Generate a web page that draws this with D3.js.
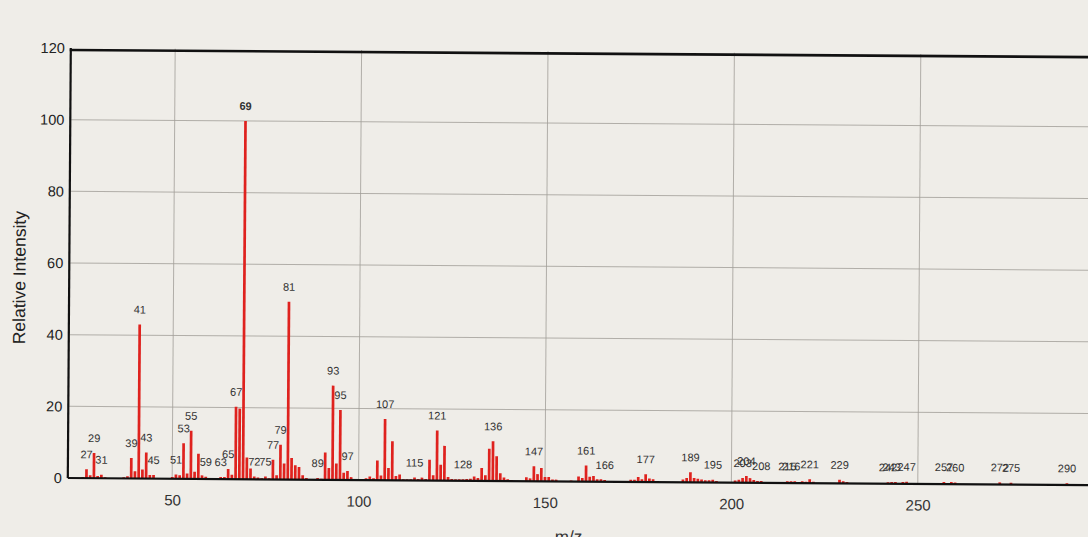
<!DOCTYPE html>
<html>
<head>
<meta charset="utf-8">
<script src="https://cdn.jsdelivr.net/npm/d3@7"></script>
<style>
  html, body { margin: 0; padding: 0; background: #efede8; }
  svg { display: block; }
</style>
</head>
<body>
<svg id="chart" width="1088" height="537"></svg>
<script>
// Mass spectrum: m/z values and relative intensities (%)
const mzValues = [
  26, 27, 28, 29, 30, 31, 32, 37, 38, 39, 40, 41, 42, 43, 44, 45,
  50, 51, 52, 53, 54, 55, 56, 57, 58, 59, 62, 63, 64, 65, 66, 67, 68, 69,
  70, 71, 72, 73, 74, 75, 76, 77, 78, 79, 80, 81, 82, 83, 84, 85, 86, 87,
  89, 90, 91, 92, 93, 94, 95, 96, 97, 98, 99,
  101, 102, 103, 104, 105, 106, 107, 108, 109, 110, 111, 112, 113, 114,
  115, 116, 117, 118, 119, 120, 121, 122, 123, 124, 125, 126, 127, 128,
  129, 130, 131, 132, 133, 134, 135, 136, 137, 138, 139, 140, 141,
  145, 146, 147, 148, 149, 150, 151, 152, 153, 157, 159, 160, 161, 162,
  163, 164, 165, 166, 173, 174, 175, 176, 177, 178, 179, 180,
  187, 188, 189, 190, 191, 192, 193, 194, 195, 196,
  201, 202, 203, 204, 205, 206, 207, 208, 215, 216, 217, 219, 220, 221, 222,
  229, 230, 231, 242, 243, 244, 246, 247, 257, 259, 260, 272, 275, 290
];
const intensities = [
  0.3, 2.5, 0.8, 7.0, 0.6, 1.0, 0.3, 0.3, 0.6, 5.7, 2.0, 43.0, 2.5, 7.3, 1.0, 1.0,
  0.5, 1.2, 1.0, 9.9, 1.5, 13.4, 2.0, 7.0, 1.0, 0.6, 0.3, 0.6, 0.6, 2.8, 1.2, 20.2, 19.7, 100,
  6.1, 3.0, 0.8, 0.5, 0.3, 0.8, 0.3, 5.5, 1.2, 9.7, 4.5, 49.6, 6.0, 4.0, 3.5, 1.2, 0.5, 0.2,
  0.5, 0.3, 7.6, 3.3, 26.3, 4.6, 19.5, 2.0, 2.5, 0.8, 0.3,
  0.3, 0.5, 1.0, 0.5, 5.5, 1.3, 17.1, 3.4, 10.9, 1.2, 1.6, 0.3, 0.3, 0.3,
  0.8, 0.4, 0.8, 0.4, 5.8, 1.5, 14.0, 4.4, 9.7, 1.0, 0.5, 0.4, 0.4, 0.4,
  0.5, 0.6, 1.2, 0.8, 3.6, 1.6, 9.0, 11.1, 6.9, 2.2, 1.0, 0.5, 0.3,
  1.1, 0.8, 4.2, 2.0, 3.7, 1.2, 1.2, 0.5, 0.5, 0.3, 1.4, 1.0, 4.5, 1.4,
  1.6, 0.7, 0.7, 0.5, 0.6, 0.6, 1.4, 0.8, 2.2, 1.0, 0.8, 0.3,
  0.8, 1.2, 2.8, 1.2, 1.0, 0.8, 0.6, 0.6, 0.8, 0.4,
  0.6, 0.8, 1.3, 1.9, 1.3, 0.8, 0.5, 0.5, 0.5, 0.5, 0.5, 0.5, 0.4, 1.1, 0.4,
  1.0, 0.6, 0.4, 0.4, 0.5, 0.5, 0.5, 0.6, 0.6, 0.6, 0.5, 0.6, 0.5, 0.5
];
// Peaks that carry an m/z annotation
const labeledPeaks = [
  27, 29, 31, 39, 41, 43, 45, 51, 53, 55, 59, 63, 65, 67, 69, 72, 75, 77, 79, 81,
  89, 93, 95, 97, 107, 115, 121, 128, 136, 147, 161, 166, 177, 189, 195,
  203, 204, 208, 215, 216, 221, 229, 242, 243, 247, 257, 260, 272, 275, 290
];
const yTicks = [0, 20, 40, 60, 80, 100, 120];
const xTicks = [50, 100, 150, 200, 250];

const svg = d3.select("#chart");
const plotLeft = 67.8, plotRight = 1104.2, plotTop = 48, plotBottom = 478;

const x = d3.scaleLinear().domain([22, 300]).range([plotLeft, plotRight]);
const y = d3.scaleLinear().domain([0, 120]).range([plotBottom, plotTop]);

// the whole printout sits very slightly rotated on the page
const g = svg.append("g").attr("transform", `rotate(0.4, 66, ${plotBottom})`);

// grid
g.append("g").selectAll("line").data(yTicks.filter(d => d > 0 && d < 120)).join("line")
  .attr("x1", plotLeft).attr("x2", plotRight)
  .attr("y1", d => y(d)).attr("y2", d => y(d))
  .attr("stroke", "#a29f99").attr("stroke-width", 1).attr("opacity", 0.8);
g.append("g").selectAll("line").data(xTicks).join("line")
  .attr("x1", d => x(d)).attr("x2", d => x(d))
  .attr("y1", plotTop).attr("y2", plotBottom)
  .attr("stroke", "#a29f99").attr("stroke-width", 1).attr("opacity", 0.8);

// axes (labels only, no tick marks)
const yAxis = d3.axisLeft(y).tickValues(yTicks).tickSize(0).tickPadding(6);
const yG = g.append("g").attr("transform", `translate(${plotLeft},0)`).call(yAxis);
yG.select(".domain").remove();
yG.selectAll("text").attr("font-family", "Liberation Sans, Arial, sans-serif")
  .attr("font-size", 14.5).attr("fill", "#222");

const xAxis = d3.axisBottom(x).tickValues(xTicks).tickSize(0).tickPadding(16);
const xG = g.append("g").attr("transform", `translate(0,${plotBottom})`).call(xAxis);
xG.select(".domain").remove();
xG.selectAll("text").attr("font-family", "Liberation Sans, Arial, sans-serif")
  .attr("font-size", 15).attr("fill", "#333");

// bars
const peaks = mzValues.map((m, i) => ({ mz: m, v: intensities[i] }));
const barW = 2.7;
g.append("g").selectAll("rect").data(peaks).join("rect")
  .attr("x", d => x(d.mz) - barW / 2)
  .attr("y", d => y(d.v))
  .attr("width", barW)
  .attr("height", d => plotBottom - y(d.v))
  .attr("fill", "#df221e");

// peak annotations
const byMz = new Map(peaks.map(p => [p.mz, p.v]));
g.append("g").selectAll("text").data(labeledPeaks).join("text")
  .attr("x", d => x(d))
  .attr("y", d => y(byMz.get(d) || 0) - 11)
  .attr("text-anchor", "middle")
  .attr("font-family", "Liberation Sans, Arial, sans-serif")
  .attr("font-size", 11)
  .attr("font-weight", d => d === 69 ? "bold" : "normal")
  .attr("fill", "#333")
  .text(d => d);

// frame
g.append("line").attr("x1", plotLeft).attr("x2", plotLeft).attr("y1", plotTop).attr("y2", plotBottom)
  .attr("stroke", "#111").attr("stroke-width", 2.2);
g.append("line").attr("x1", plotLeft).attr("x2", plotRight).attr("y1", plotBottom).attr("y2", plotBottom)
  .attr("stroke", "#111").attr("stroke-width", 2.2);
g.append("line").attr("x1", plotLeft - 1).attr("x2", plotRight).attr("y1", plotTop + 2).attr("y2", plotTop + 2)
  .attr("stroke", "#111").attr("stroke-width", 2.6);

// axis titles
g.append("text")
  .attr("transform", `translate(24, 278) rotate(-90)`)
  .attr("text-anchor", "middle")
  .attr("font-family", "Liberation Sans, Arial, sans-serif")
  .attr("font-size", 17.5).attr("fill", "#222")
  .text("Relative Intensity");
g.append("text")
  .attr("x", 569).attr("y", 539)
  .attr("text-anchor", "middle")
  .attr("font-family", "Liberation Sans, Arial, sans-serif")
  .attr("font-size", 17).attr("fill", "#333")
  .text("m/z");
</script>
</body>
</html>
